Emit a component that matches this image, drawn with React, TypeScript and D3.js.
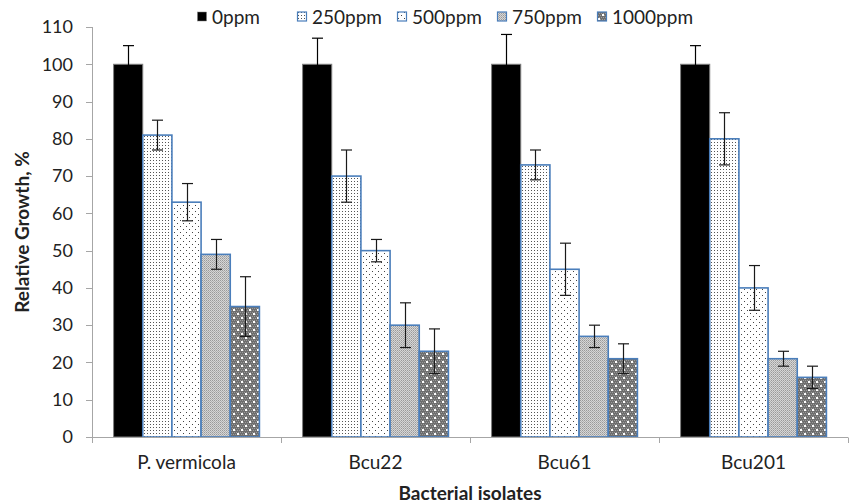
import React from "react";
import * as d3 from "d3";

const isolates = ["P. vermicola", "Bcu22", "Bcu61", "Bcu201"];
const doses = ["0ppm", "250ppm", "500ppm", "750ppm", "1000ppm"];

// relative growth per dose, one value per isolate
const growth0 = [100, 100, 100, 100];
const growth250 = [81, 70, 73, 80];
const growth500 = [63, 50, 45, 40];
const growth750 = [49, 30, 27, 21];
const growth1000 = [35, 23, 21, 16];

const err0 = [5, 7, 8, 5];
const err250 = [4, 7, 4, 7];
const err500 = [5, 3, 7, 6];
const err750 = [4, 6, 3, 2];
const err1000 = [8, 6, 4, 3];

const yTicks = [0, 10, 20, 30, 40, 50, 60, 70, 80, 90, 100, 110];

const values = [growth0, growth250, growth500, growth750, growth1000];
const errors = [err0, err250, err500, err750, err1000];

const fills = ["#000000", "url(#p250)", "url(#p500)", "url(#p750)", "url(#p1000)"];
const strokes = ["#7f7f7f", "#4a7ebb", "#4a7ebb", "#4a7ebb", "#4a7ebb"];

const W = 849;
const H = 503;
const font = "Lato, 'Open Sans', sans-serif";

// checker cells for the 1000ppm pattern
const checker = d3.range(16).map((k) => ({ cx: (k % 4) * 2 + (Math.floor(k / 4) % 2), cy: Math.floor(k / 4) * 2 }));

export default function App() {
  const x = d3.scaleBand().domain(isolates).range([92, 848]);
  const xi = d3.scaleBand().domain(doses).range([0, x.bandwidth()]).paddingOuter(0.74);
  const y = d3.scaleLinear().domain([0, 110]).range([437, 27]);
  const legendX = d3.scalePoint().domain(doses).range([197, 597]);

  return (
    <svg width={W} height={H} style={{ position: "absolute", left: 0, top: 0, background: "#fff" }}>
      <defs>
        <pattern id="p250" width="3" height="3" patternUnits="userSpaceOnUse">
          <rect width="3" height="3" fill="#fff" />
          <rect x="1" y="1" width="1" height="1" fill="#555" />
        </pattern>
        <pattern id="p500" width="6" height="6" patternUnits="userSpaceOnUse">
          <rect width="6" height="6" fill="#fff" />
          <rect x="1" y="1" width="1" height="1" fill="#444" />
          <rect x="4" y="4" width="1" height="1" fill="#444" />
        </pattern>
        <pattern id="p750" width="2" height="2" patternUnits="userSpaceOnUse">
          <rect width="2" height="2" fill="#d6d6d6" />
          <rect x="0" y="0" width="1" height="1" fill="#9a9a9a" />
          <rect x="1" y="1" width="1" height="1" fill="#b0b0b0" />
        </pattern>
        <pattern id="p1000" width="8" height="8" patternUnits="userSpaceOnUse">
          <rect width="8" height="8" fill="#6e6e6e" />
          {checker.map((c, k) => (
            <rect key={k} x={c.cx} y={c.cy} width="1" height="1" fill="#9a9a9a" />
          ))}
          <rect x="1" y="1" width="2" height="2" fill="#fff" />
          <rect x="5" y="5" width="2" height="2" fill="#fff" />
        </pattern>
      </defs>

      {/* y axis */}
      <line x1={92.5} x2={92.5} y1={y(110)} y2={y(0)} stroke="#a6a6a6" />
      {yTicks.map((t) => (
        <g key={t}>
          <line x1={86} x2={92.5} y1={Math.round(y(t)) + 0.5} y2={Math.round(y(t)) + 0.5} stroke="#a6a6a6" />
          <text x={73} y={y(t)} dy="0.35em" textAnchor="end" fontSize={18} fontFamily={font} fill="#222">
            {t}
          </text>
        </g>
      ))}
      <text
        transform={`translate(22, ${y(55)}) rotate(-90)`}
        dy="0.35em"
        textAnchor="middle"
        fontSize={19}
        fontWeight="bold"
        fontFamily={font}
        fill="#222"
      >
        Relative Growth, %
      </text>

      {/* bars */}
      {isolates.map((iso, i) => (
        <g key={iso} transform={`translate(${x(iso)},0)`}>
          {doses.map((d, j) => {
            const v = values[j][i];
            const e = errors[j][i];
            const bx = xi(d)!;
            const cx = Math.round(bx + xi.bandwidth() / 2) + 0.5;
            const ec = j === 0 ? "#000" : "#1a1a1a";
            return (
              <g key={d}>
                <rect
                  x={bx}
                  y={y(v)}
                  width={xi.bandwidth()}
                  height={y(0) - y(v)}
                  fill={fills[j]}
                  stroke={strokes[j]}
                  strokeWidth={j === 0 ? 1 : 1.6}
                />
                <line x1={cx} x2={cx} y1={y(v + e)} y2={y(v - e)} stroke={ec} strokeWidth={1.2} />
                <line x1={cx - 5.5} x2={cx + 5.5} y1={y(v + e)} y2={y(v + e)} stroke={ec} strokeWidth={1.2} />
                <line x1={cx - 5.5} x2={cx + 5.5} y1={y(v - e)} y2={y(v - e)} stroke={ec} strokeWidth={1.2} />
              </g>
            );
          })}
        </g>
      ))}

      {/* x axis */}
      <line x1={92} x2={848} y1={437.5} y2={437.5} stroke="#a6a6a6" />
      {[...isolates.map((c) => x(c)!), 848].map((p, k) => (
        <line key={k} x1={Math.round(p) + 0.5} x2={Math.round(p) + 0.5} y1={437.5} y2={443} stroke="#a6a6a6" />
      ))}
      {isolates.map((c) => (
        <text
          key={c}
          x={x(c)! + x.bandwidth() / 2}
          y={462}
          dy="0.35em"
          textAnchor="middle"
          fontSize={19}
          fontFamily={font}
          fill="#222"
        >
          {c}
        </text>
      ))}
      <text x={470} y={493} dy="0.35em" textAnchor="middle" fontSize={19} fontWeight="bold" fontFamily={font} fill="#222">
        Bacterial isolates
      </text>

      {/* legend */}
      {doses.map((d, j) => (
        <g key={d} transform={`translate(${legendX(d)},17)`}>
          <rect x={0.5} y={-5} width={9} height={9} fill={fills[j]} stroke={strokes[j]} strokeWidth={j === 0 ? 0.5 : 1.2} />
          <text x={15} y={0} dy="0.35em" fontSize={19} fontFamily={font} fill="#222">
            {d}
          </text>
        </g>
      ))}
    </svg>
  );
}
